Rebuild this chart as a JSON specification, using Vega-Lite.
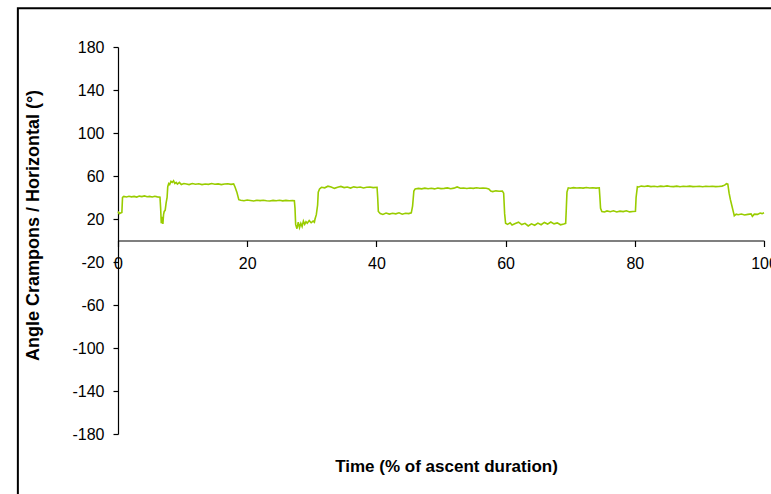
{
  "$schema": "https://vega.github.io/schema/vega-lite/v6.json",
  "width": 646,
  "height": 387,
  "autosize": {"type": "none"},
  "padding": {"left": 118, "top": 47, "right": 7, "bottom": 60},
  "background": "white",
  "config": {
    "view": {"stroke": null},
    "font": "Liberation Sans",
    "axis": {"labelFont": "Liberation Sans", "titleFont": "Liberation Sans", "labelColor": "#000000", "titleColor": "#000000", "domainColor": "#000000", "tickColor": "#000000", "grid": false}
  },
  "layer": [
    {
      "data": {"values": [{"part": "frame"}]},
      "mark": {"type": "rect", "filled": false, "fill": "transparent", "stroke": "#000000", "strokeWidth": 2, "clip": false},
      "encoding": {
        "x": {"datum": -15.5, "type": "quantitative", "scale": {"domain": [0, 100], "nice": false}},
        "x2": {"datum": 110},
        "y": {"datum": 216, "type": "quantitative", "scale": {"domain": [-180, 180], "nice": false}},
        "y2": {"datum": -260}
      }
    },
    {
      "data": {"values": [
        {"t": 0, "angle": 27}, {"t": 0.2, "angle": 25}, {"t": 0.4, "angle": 25.5}, {"t": 0.6, "angle": 26},
        {"t": 0.7, "angle": 40}, {"t": 0.9, "angle": 41}, {"t": 1.3, "angle": 40.5}, {"t": 1.7, "angle": 41.2},
        {"t": 2.1, "angle": 40.6}, {"t": 2.5, "angle": 41}, {"t": 2.9, "angle": 40.4}, {"t": 3.3, "angle": 41.3},
        {"t": 3.7, "angle": 40.8}, {"t": 4.1, "angle": 41.5}, {"t": 4.5, "angle": 40.7}, {"t": 4.9, "angle": 41},
        {"t": 5.3, "angle": 40.5}, {"t": 5.7, "angle": 41.2}, {"t": 6.1, "angle": 40.6}, {"t": 6.5, "angle": 40.3},
        {"t": 6.6, "angle": 30}, {"t": 6.7, "angle": 16}, {"t": 6.8, "angle": 22}, {"t": 6.95, "angle": 15.5},
        {"t": 7.05, "angle": 24}, {"t": 7.15, "angle": 27}, {"t": 7.3, "angle": 28}, {"t": 7.45, "angle": 35},
        {"t": 7.6, "angle": 40}, {"t": 7.7, "angle": 50}, {"t": 7.85, "angle": 53}, {"t": 8.0, "angle": 52},
        {"t": 8.2, "angle": 55}, {"t": 8.4, "angle": 54}, {"t": 8.6, "angle": 55.5}, {"t": 8.8, "angle": 53},
        {"t": 9.0, "angle": 54}, {"t": 9.2, "angle": 52.5}, {"t": 9.5, "angle": 54}, {"t": 9.8, "angle": 52},
        {"t": 10.2, "angle": 53}, {"t": 10.6, "angle": 52.5}, {"t": 11, "angle": 52}, {"t": 11.5, "angle": 53},
        {"t": 12, "angle": 52.4}, {"t": 12.5, "angle": 52.8}, {"t": 13, "angle": 52}, {"t": 13.5, "angle": 52.6},
        {"t": 14, "angle": 52.2}, {"t": 14.5, "angle": 53}, {"t": 15, "angle": 52.3}, {"t": 15.5, "angle": 52.7},
        {"t": 16, "angle": 52}, {"t": 16.5, "angle": 52.5}, {"t": 17, "angle": 52.8}, {"t": 17.5, "angle": 52.2},
        {"t": 17.9, "angle": 52.6}, {"t": 18.1, "angle": 50}, {"t": 18.4, "angle": 45}, {"t": 18.7, "angle": 38},
        {"t": 19, "angle": 37.5}, {"t": 19.5, "angle": 37}, {"t": 20, "angle": 37.6}, {"t": 20.5, "angle": 37.2},
        {"t": 21, "angle": 36.8}, {"t": 21.5, "angle": 37.4}, {"t": 22, "angle": 37.1}, {"t": 22.5, "angle": 37.5},
        {"t": 23, "angle": 37}, {"t": 23.5, "angle": 36.7}, {"t": 24, "angle": 37.3}, {"t": 24.5, "angle": 37},
        {"t": 25, "angle": 37.4}, {"t": 25.5, "angle": 36.9}, {"t": 26, "angle": 37.3}, {"t": 26.5, "angle": 37},
        {"t": 27, "angle": 37.2}, {"t": 27.3, "angle": 37}, {"t": 27.4, "angle": 30}, {"t": 27.5, "angle": 15},
        {"t": 27.7, "angle": 11}, {"t": 27.9, "angle": 17}, {"t": 28.1, "angle": 12}, {"t": 28.3, "angle": 16},
        {"t": 28.5, "angle": 13}, {"t": 28.7, "angle": 18}, {"t": 28.9, "angle": 15}, {"t": 29.1, "angle": 17.5},
        {"t": 29.3, "angle": 16}, {"t": 29.6, "angle": 18.5}, {"t": 29.9, "angle": 16.5}, {"t": 30.2, "angle": 18},
        {"t": 30.4, "angle": 17}, {"t": 30.5, "angle": 20}, {"t": 30.7, "angle": 24}, {"t": 30.9, "angle": 33},
        {"t": 31.0, "angle": 45}, {"t": 31.2, "angle": 48}, {"t": 31.5, "angle": 49.5}, {"t": 32, "angle": 49},
        {"t": 32.5, "angle": 50.5}, {"t": 33, "angle": 49.8}, {"t": 33.5, "angle": 48.5}, {"t": 34, "angle": 49.6},
        {"t": 34.5, "angle": 50.3}, {"t": 35, "angle": 49.2}, {"t": 35.5, "angle": 49.7}, {"t": 36, "angle": 48.8},
        {"t": 36.5, "angle": 49.9}, {"t": 37, "angle": 49.3}, {"t": 37.5, "angle": 49.8}, {"t": 38, "angle": 48.9},
        {"t": 38.5, "angle": 49.5}, {"t": 39, "angle": 49.8}, {"t": 39.5, "angle": 49.2}, {"t": 40.1, "angle": 49.5},
        {"t": 40.2, "angle": 40}, {"t": 40.3, "angle": 27}, {"t": 40.6, "angle": 25}, {"t": 41, "angle": 24.2},
        {"t": 41.5, "angle": 25.5}, {"t": 42, "angle": 24.6}, {"t": 42.5, "angle": 25.3}, {"t": 43, "angle": 24.8},
        {"t": 43.5, "angle": 25.8}, {"t": 44, "angle": 24.5}, {"t": 44.5, "angle": 25.4}, {"t": 45, "angle": 25},
        {"t": 45.4, "angle": 25.7}, {"t": 45.6, "angle": 32}, {"t": 45.8, "angle": 46}, {"t": 46, "angle": 48},
        {"t": 46.5, "angle": 48.5}, {"t": 47, "angle": 48}, {"t": 47.5, "angle": 48.7}, {"t": 48, "angle": 48.2},
        {"t": 48.5, "angle": 48.6}, {"t": 49, "angle": 48}, {"t": 49.5, "angle": 48.8}, {"t": 50, "angle": 48.3},
        {"t": 50.5, "angle": 48.5}, {"t": 51, "angle": 48.9}, {"t": 51.5, "angle": 48.2}, {"t": 52, "angle": 48.7},
        {"t": 52.5, "angle": 49.8}, {"t": 53, "angle": 48.6}, {"t": 53.5, "angle": 48.9}, {"t": 54, "angle": 48.4},
        {"t": 54.5, "angle": 48.8}, {"t": 55, "angle": 48.5}, {"t": 55.5, "angle": 49}, {"t": 56, "angle": 48.6},
        {"t": 56.5, "angle": 48.8}, {"t": 57, "angle": 48.6}, {"t": 57.4, "angle": 48}, {"t": 57.7, "angle": 46},
        {"t": 58, "angle": 45.5}, {"t": 58.5, "angle": 46.2}, {"t": 59, "angle": 45.8}, {"t": 59.5, "angle": 46},
        {"t": 59.7, "angle": 44}, {"t": 59.85, "angle": 25}, {"t": 60, "angle": 16}, {"t": 60.3, "angle": 15},
        {"t": 60.7, "angle": 16.5}, {"t": 61, "angle": 14.5}, {"t": 61.5, "angle": 15.8}, {"t": 62, "angle": 17},
        {"t": 62.5, "angle": 14.8}, {"t": 63, "angle": 16}, {"t": 63.5, "angle": 13.5}, {"t": 64, "angle": 15.5},
        {"t": 64.5, "angle": 14.2}, {"t": 65, "angle": 16.2}, {"t": 65.5, "angle": 14.7}, {"t": 66, "angle": 16.8},
        {"t": 66.5, "angle": 15.3}, {"t": 67, "angle": 17.2}, {"t": 67.5, "angle": 15.5}, {"t": 68, "angle": 16.4},
        {"t": 68.5, "angle": 14.6}, {"t": 69, "angle": 15.4}, {"t": 69.3, "angle": 16}, {"t": 69.4, "angle": 30},
        {"t": 69.5, "angle": 45}, {"t": 69.7, "angle": 49}, {"t": 70, "angle": 48.6}, {"t": 70.5, "angle": 49.2},
        {"t": 71, "angle": 48.8}, {"t": 71.5, "angle": 49}, {"t": 72, "angle": 48.7}, {"t": 72.5, "angle": 49.3},
        {"t": 73, "angle": 48.9}, {"t": 73.5, "angle": 49.1}, {"t": 74, "angle": 48.7}, {"t": 74.5, "angle": 49},
        {"t": 74.6, "angle": 40}, {"t": 74.7, "angle": 30}, {"t": 74.9, "angle": 27}, {"t": 75.3, "angle": 26.5},
        {"t": 75.7, "angle": 27.5}, {"t": 76.2, "angle": 26.8}, {"t": 76.7, "angle": 27.6}, {"t": 77.2, "angle": 26.5},
        {"t": 77.7, "angle": 27.3}, {"t": 78.2, "angle": 26.9}, {"t": 78.7, "angle": 27.7}, {"t": 79.2, "angle": 26.6},
        {"t": 79.7, "angle": 27}, {"t": 80.1, "angle": 27.2}, {"t": 80.2, "angle": 40}, {"t": 80.4, "angle": 50},
        {"t": 80.6, "angle": 49.8}, {"t": 81, "angle": 50.6}, {"t": 81.5, "angle": 50.2}, {"t": 82, "angle": 50.8},
        {"t": 82.5, "angle": 50.1}, {"t": 83, "angle": 50.4}, {"t": 83.5, "angle": 50}, {"t": 84, "angle": 50.6},
        {"t": 84.5, "angle": 50.2}, {"t": 85, "angle": 50.8}, {"t": 85.5, "angle": 50.3}, {"t": 86, "angle": 50.1},
        {"t": 86.5, "angle": 50.6}, {"t": 87, "angle": 50}, {"t": 87.5, "angle": 50.4}, {"t": 88, "angle": 50.2},
        {"t": 88.5, "angle": 50.6}, {"t": 89, "angle": 50.1}, {"t": 89.5, "angle": 50.3}, {"t": 90, "angle": 50.5},
        {"t": 90.5, "angle": 50}, {"t": 91, "angle": 50.4}, {"t": 91.5, "angle": 50.2}, {"t": 92, "angle": 50.5},
        {"t": 92.5, "angle": 50.1}, {"t": 93, "angle": 50.3}, {"t": 93.5, "angle": 50.6}, {"t": 93.9, "angle": 51.5},
        {"t": 94.2, "angle": 52.8}, {"t": 94.4, "angle": 52.5}, {"t": 94.6, "angle": 44}, {"t": 94.8, "angle": 38},
        {"t": 95.0, "angle": 33}, {"t": 95.2, "angle": 28}, {"t": 95.4, "angle": 23}, {"t": 95.7, "angle": 24.5},
        {"t": 96, "angle": 24}, {"t": 96.5, "angle": 24.6}, {"t": 97, "angle": 23.8}, {"t": 97.5, "angle": 24.3},
        {"t": 98, "angle": 24.8}, {"t": 98.2, "angle": 22.5}, {"t": 98.5, "angle": 24.5}, {"t": 99, "angle": 24.3},
        {"t": 99.4, "angle": 25.5}, {"t": 99.7, "angle": 25}, {"t": 100, "angle": 25.8}
      ]},
      "mark": {"type": "line", "color": "#99CC00", "strokeWidth": 1.6, "clip": false},
      "encoding": {
        "x": {
          "field": "t", "type": "quantitative",
          "scale": {"domain": [0, 100], "nice": false},
          "axis": {
            "title": "Time (% of ascent duration)",
            "values": [0, 20, 40, 60, 80, 100],
            "labelExpr": "'' + datum.value",
            "offset": -193.5,
            "tickSize": 6, "labelPadding": 9, "labelFontSize": 16, "labelFlush": false,
            "domainWidth": 1.2, "tickWidth": 1.2,
            "titleFontSize": 17, "titleFontWeight": "bold",
            "titleY": 226, "titleBaseline": "middle", "titleX": 328
          }
        },
        "y": {
          "field": "angle", "type": "quantitative",
          "scale": {"domain": [-180, 180], "nice": false},
          "axis": {
            "title": "Angle Crampons / Horizontal (°)",
            "values": [-180, -140, -100, -60, -20, 20, 60, 100, 140, 180],
            "labelExpr": "'' + datum.value",
            "tickSize": 5, "labelPadding": 9, "labelFontSize": 16, "labelFlush": false,
            "domainWidth": 1.2, "tickWidth": 1.2,
            "titleFontSize": 18, "titleFontWeight": "bold",
            "titleX": -85, "titleY": 178, "titleAngle": 270, "titleBaseline": "middle", "titleAlign": "center"
          }
        }
      }
    }
  ]
}
